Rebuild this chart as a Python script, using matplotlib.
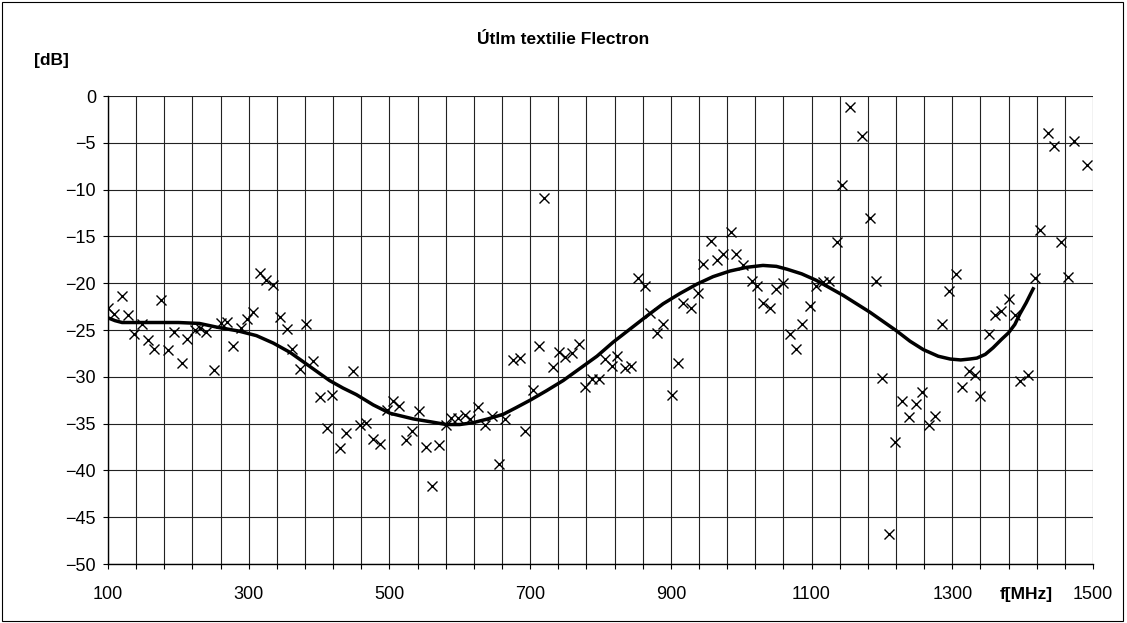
import numpy as np
import matplotlib
matplotlib.use("Agg")
import matplotlib.pyplot as plt
from matplotlib.patches import Rectangle

plt.rcParams['font.family'] = ['Liberation Sans', 'DejaVu Sans']

# measured attenuation points
freq = [100, 109, 120, 128, 137, 148, 157, 166, 176, 185, 194, 205, 213, 223, 231,
        240, 250, 260, 269, 278, 289, 297, 306, 316, 325, 334, 345, 354, 362, 373,
        382, 391, 402, 411, 419, 430, 438, 448, 458, 467, 476, 487, 496, 505, 514,
        524, 532, 542, 552, 560, 571, 580, 587, 598, 607, 615, 626, 636, 646, 656,
        664, 676, 685, 693, 704, 713, 720, 732, 741, 750, 760, 769, 778, 788, 798,
        806, 817, 824, 835, 844, 854, 863, 871, 881, 889, 901, 910, 918, 928, 938,
        946, 957, 966, 974, 985, 993, 1003, 1015, 1023, 1031, 1041, 1050, 1060, 1069, 1078,
        1087, 1098, 1107, 1116, 1125, 1136, 1144, 1155, 1172, 1183, 1192, 1200, 1210, 1219, 1229,
        1239, 1248, 1257, 1267, 1276, 1285, 1296, 1305, 1314, 1324, 1332, 1340, 1352, 1361, 1369,
        1380, 1389, 1397, 1408, 1418, 1425, 1436, 1445, 1454, 1465, 1473, 1492]
atten = [-22.6, -23.3, -21.4, -23.4, -25.4, -24.4, -26.1, -27.0, -21.8, -27.1, -25.2, -28.5, -26.0, -25.0, -24.8,
         -25.2, -29.3, -24.2, -24.1, -26.7, -24.8, -23.8, -23.1, -18.9, -19.7, -20.2, -23.6, -24.9, -27.0, -29.2,
         -24.4, -28.3, -32.2, -35.5, -31.9, -37.6, -36.0, -29.4, -35.2, -34.9, -36.6, -37.2, -33.6, -32.6, -33.1,
         -36.8, -35.8, -33.7, -37.5, -41.7, -37.3, -35.1, -34.4, -34.4, -34.1, -34.5, -33.2, -35.1, -34.2, -39.3,
         -34.5, -28.2, -28.0, -35.8, -31.4, -26.7, -10.9, -29.0, -27.4, -27.9, -27.5, -26.5, -31.1, -30.2, -30.2,
         -28.1, -28.8, -27.8, -29.1, -28.8, -19.4, -20.3, -23.2, -25.3, -24.4, -31.9, -28.5, -22.1, -22.6, -21.0,
         -17.9, -15.5, -17.5, -16.9, -14.5, -16.9, -18.1, -19.8, -20.3, -22.1, -22.6, -20.6, -20.0, -25.4, -27.0,
         -24.4, -22.4, -20.3, -19.9, -19.8, -15.6, -9.5, -1.2, -4.3, -13.0, -19.8, -30.1, -46.8, -37.0, -32.6,
         -34.3, -32.9, -31.6, -35.1, -34.2, -24.4, -20.8, -19.0, -31.1, -29.4, -29.8, -32.1, -25.4, -23.4, -23.0,
         -21.7, -23.4, -30.4, -29.8, -19.4, -14.3, -3.9, -5.3, -15.6, -19.3, -4.8, -7.4]

# trend curve
trend_f = [100, 110, 120, 150, 200, 230, 255, 285, 311, 335, 359, 387, 415, 434, 453, 477, 501, 534,
           558, 581, 600, 619, 640, 662, 680, 700, 723, 747, 771, 795, 818, 842, 866, 889, 913, 937,
           960, 984, 1008, 1031, 1050, 1065, 1086, 1107, 1126, 1145, 1164, 1183, 1202, 1221, 1240, 1259,
           1280, 1297, 1312, 1325, 1335, 1347, 1358, 1370, 1380, 1389, 1396, 1405, 1415]
trend_db = [-23.7, -24.0, -24.2, -24.2, -24.2, -24.3, -24.7, -25.1, -25.6, -26.4, -27.4, -28.9, -30.4, -31.2, -31.9,
            -33.0, -33.9, -34.5, -34.8, -35.1, -35.1, -34.9, -34.5, -34.0, -33.3, -32.5, -31.5, -30.4, -29.1, -27.8,
            -26.3, -24.9, -23.5, -22.2, -21.1, -20.1, -19.3, -18.7, -18.3, -18.1, -18.2, -18.5, -19.0, -19.7,
            -20.5, -21.3, -22.2, -23.1, -24.1, -25.1, -26.2, -27.1, -27.8, -28.1, -28.2, -28.1, -28.0, -27.6,
            -26.9, -26.0, -25.3, -24.4, -23.3, -22.1, -20.6]

fig = plt.figure(figsize=(11.27, 6.23), dpi=100)
ax = fig.add_axes([0.0958, 0.0947, 0.9698 - 0.0958, 0.8459 - 0.0947])

ax.plot(freq, atten, linestyle='none', marker='x', color='black',
        markersize=7.5, markeredgewidth=1.0, zorder=3)
ax.plot(trend_f, trend_db, color='black', linewidth=2.5, zorder=4)

ax.set_xlim(100, 1500)
ax.set_ylim(-50, 0)
ax.set_xticks(np.arange(100, 1501, 40))
ax.set_xticklabels([str(v) if (v - 100) % 200 == 0 else '' for v in range(100, 1501, 40)])
ax.set_yticks(np.arange(-50, 1, 5))
ax.grid(True, color='#222222', linewidth=0.8)
ax.set_axisbelow(True)
ax.tick_params(axis='both', direction='out', length=3.6, width=0.8, labelsize=13)
ax.tick_params(axis='x', pad=12)
ax.tick_params(axis='y', pad=5)
for s in ['top', 'right']:
    ax.spines[s].set_visible(False)
for s in ['left', 'bottom']:
    ax.spines[s].set_linewidth(1.0)

fig.text(0.5, 0.936, 'Útlm textilie Flectron', ha='center', va='center',
         fontsize=12.5, fontweight='bold')
fig.text(51 / 1127, 1 - 61 / 623, '[dB]', ha='center', va='center',
         fontsize=12.5, fontweight='bold')
fig.text(1026 / 1127, 1 - 594 / 623, 'f[MHz]', ha='center', va='center',
         fontsize=12.5, fontweight='bold')

fig.patches.append(Rectangle((0.002, 0.003), 0.9945, 0.994, transform=fig.transFigure,
                             fill=False, edgecolor='black', linewidth=0.8))

fig.savefig('out.png', dpi=100)
